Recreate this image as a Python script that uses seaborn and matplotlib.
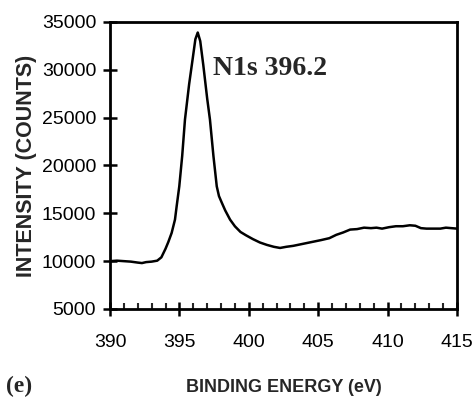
import matplotlib
matplotlib.use("Agg")
import matplotlib.pyplot as plt
from matplotlib.ticker import MultipleLocator
import seaborn as sns
import pandas as pd

# Binding energy (eV) and intensity (counts)
energy = [390.0, 390.5, 391.0, 391.5, 392.0, 392.3, 392.6, 393.0, 393.4, 393.7,
          394.0, 394.2, 394.44, 394.68, 394.8, 394.99, 395.2, 395.4, 395.7, 395.96,
          396.15, 396.32, 396.5, 396.72, 397.0, 397.2, 397.45, 397.69, 397.85, 398.05,
          398.3, 398.65, 399.0, 399.4, 399.8, 400.3, 400.8, 401.3, 401.8, 402.25,
          402.7, 403.2, 403.7, 404.2, 404.7, 405.2, 405.8, 406.3, 406.8, 407.3,
          407.8, 408.3, 408.8, 409.2, 409.6, 410.1, 410.6, 411.1, 411.6, 412.0,
          412.4, 412.8, 413.3, 413.8, 414.2, 414.6, 415.0]
counts = [10000, 10050, 10000, 9950, 9850, 9800, 9900, 9950, 10050, 10400,
          11300, 12000, 12950, 14340, 15730, 17820, 21000, 24800, 28500, 31200,
          33200, 33900, 33000, 30500, 27000, 24800, 21000, 17820, 16800, 16120,
          15300, 14340, 13640, 13050, 12700, 12300, 11950, 11700, 11500, 11380,
          11500, 11600, 11750, 11900, 12050, 12200, 12400, 12750, 13000, 13300,
          13350, 13500, 13450, 13500, 13400, 13550, 13650, 13650, 13750, 13700,
          13450, 13400, 13400, 13400, 13500, 13450, 13400]

x_ticks = [390, 395, 400, 405, 410, 415]
y_ticks = [5000, 10000, 15000, 20000, 25000, 30000, 35000]
peak_label = "N1s 396.2"
x_title = "BINDING ENERGY (eV)"
y_title = "INTENSITY (COUNTS)"
panel_label = "(e)"

df = pd.DataFrame({"energy": energy, "counts": counts})

sns.set_style("ticks")
plt.rcParams["font.family"] = ["Liberation Sans", "DejaVu Sans"]

fig = plt.figure(figsize=(4.73, 3.99), dpi=100)
ax = fig.add_axes([0.2326, 0.2256, 0.7336, 0.7193])

sns.lineplot(data=df, x="energy", y="counts", color="black", linewidth=1.8, ax=ax)

ax.set_xlim(390, 415)
ax.set_ylim(5000, 35000)
ax.set_xticks(x_ticks)
ax.set_xticklabels([str(v) for v in x_ticks])
ax.set_yticks(y_ticks)
ax.set_yticklabels([str(v) for v in y_ticks])
ax.xaxis.set_minor_locator(MultipleLocator(1))

for s in ax.spines.values():
    s.set_visible(True)
    s.set_linewidth(2.0)
    s.set_color("black")

ax.tick_params(axis="both", which="major", direction="inout", length=10, width=1.8,
               labelsize=14, colors="black", top=False, right=False)
ax.tick_params(axis="y", which="major", pad=5)
ax.tick_params(axis="x", which="major", pad=13)
ax.tick_params(axis="x", which="minor", direction="in", length=4.5, width=1.5,
               top=False)
ax.tick_params(axis="y", which="minor", left=False)

ax.set_xlabel(x_title, fontsize=13, fontweight="bold")
ax.set_ylabel(y_title, fontsize=15.5, fontweight="bold")
ax.xaxis.set_label_coords(0.5, -0.245)
ax.yaxis.set_label_coords(-0.21, 0.5)

ax.text(397.42, 29500, peak_label, fontsize=20, fontweight="bold",
        family=["Liberation Serif", "DejaVu Serif"], va="baseline", ha="left")

fig.text(6 / 473, 0.004, panel_label, fontsize=17, fontweight="bold",
         family=["Liberation Serif", "DejaVu Serif"], va="bottom", ha="left")

ax.grid(False)
fig.savefig("out.png", dpi=100, facecolor="white")
